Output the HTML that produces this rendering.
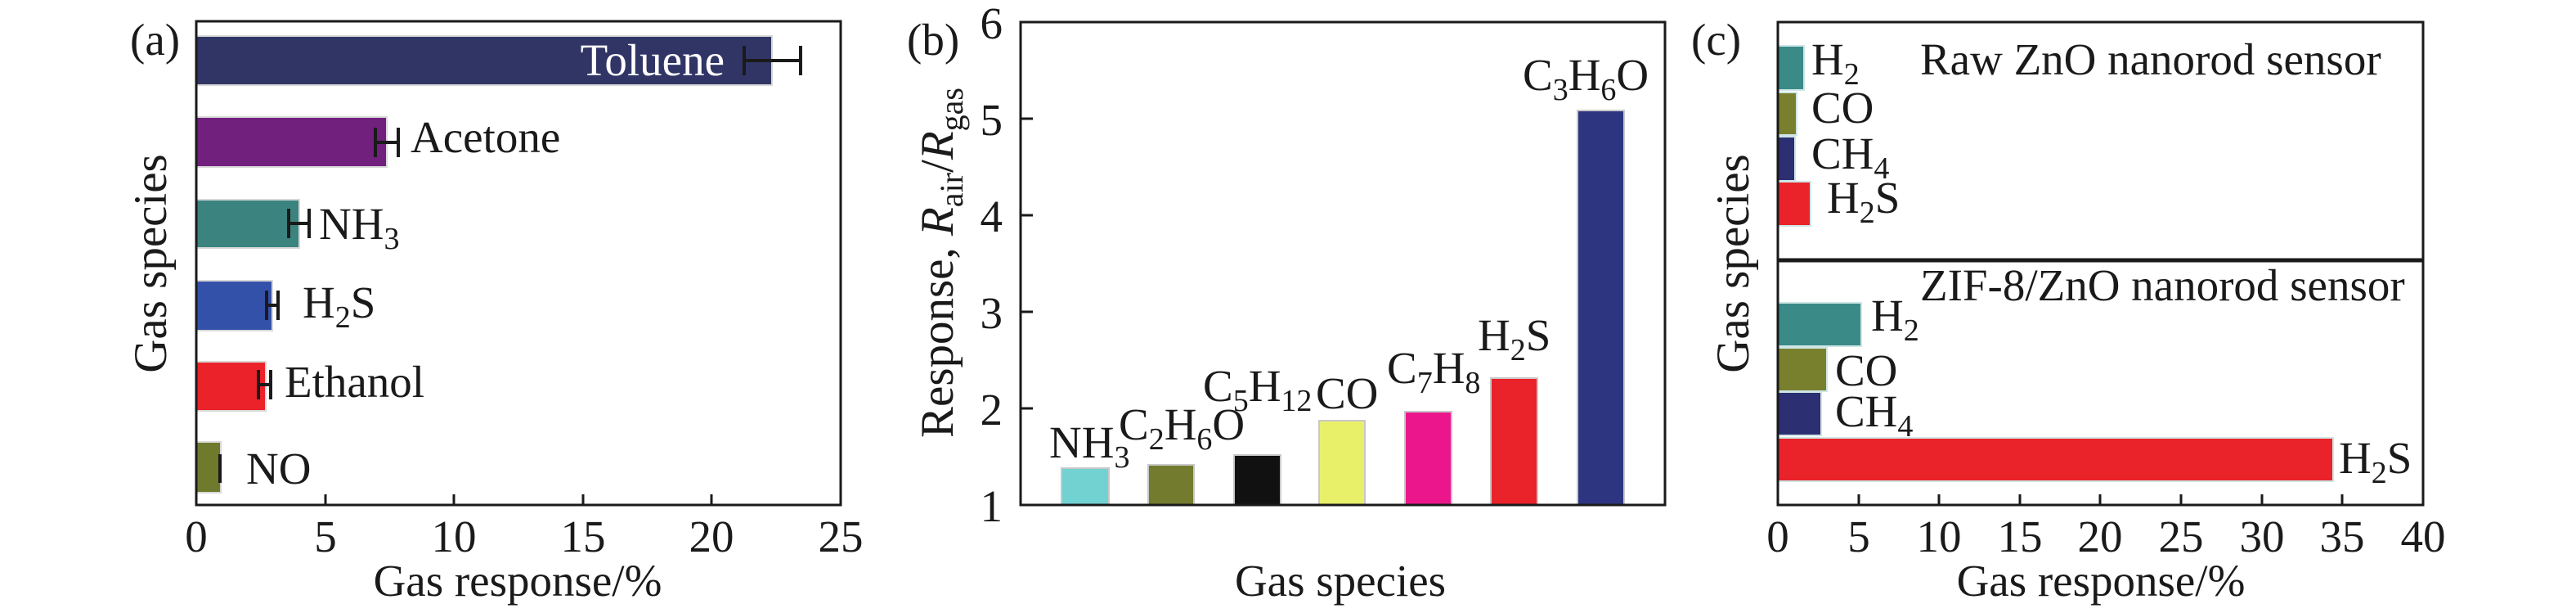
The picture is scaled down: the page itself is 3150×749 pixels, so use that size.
<!DOCTYPE html>
<html><head><meta charset="utf-8"><style>
html,body{margin:0;padding:0;background:#fff;}
svg{display:block;}
text{font-family:"Liberation Serif","DejaVu Serif",serif;fill:#1a1a1a;}
</style></head><body>
<svg width="3150" height="749" viewBox="0 0 3150 749" xmlns="http://www.w3.org/2000/svg">
<g font-size="55">
<!-- Panel a -->
<g stroke="#d8d8d8" stroke-width="2">
<rect x="240" y="44" width="704" height="60" fill="#313566"/>
<rect x="240" y="143" width="233" height="61" fill="#71207e"/>
<rect x="240" y="244" width="126" height="59" fill="#3a837f"/>
<rect x="240" y="343" width="93" height="61" fill="#3451aa"/>
<rect x="240" y="442" width="85" height="60" fill="#eb2229"/>
<rect x="240" y="540" width="30" height="62" fill="#6f7a2c"/>
</g>
<g stroke="#1a1a1a" stroke-width="4" fill="none">
<path d="M910 74H979M910 56V92M979 56V92"/>
<path d="M459 174H487M459 156V192M487 156V192"/>
<path d="M353 273H378M353 255V291M378 255V291"/>
<path d="M326 373H340M326 355V391M340 355V391"/>
<path d="M316 470H331M316 452V488M331 452V488"/>
<path d="M269 555V590"/>
</g>
<rect x="240" y="26" width="788" height="591" fill="none" stroke="#1a1a1a" stroke-width="3"/>
<g stroke="#1a1a1a" stroke-width="3">
<path d="M398 617V604M555 617V604M713 617V604M870 617V604"/>
</g>
<text x="886" y="92" text-anchor="end" style="fill:#fff">Toluene</text>
<text x="502" y="186">Acetone</text>
<text x="390" y="292">NH<tspan font-size="38" dy="12">3</tspan></text>
<text x="370" y="388">H<tspan font-size="38" dy="12">2</tspan><tspan dy="-12">S</tspan></text>
<text x="348" y="485">Ethanol</text>
<text x="301" y="591">NO</text>
<text x="159" y="67">(a)</text>
<g text-anchor="middle">
<text x="240" y="674">0</text><text x="398" y="674">5</text><text x="555" y="674">10</text>
<text x="713" y="674">15</text><text x="870" y="674">20</text><text x="1028" y="674">25</text>
<text x="633" y="728">Gas response/%</text>
<text transform="translate(203,322) rotate(-90)" font-size="57">Gas species</text>
</g>

<!-- Panel b -->
<g stroke="#c8c8c8" stroke-width="2">
<rect x="1298" y="572" width="58" height="45" fill="#72d1d1"/>
<rect x="1404" y="568" width="56" height="49" fill="#737b2e"/>
<rect x="1509" y="556" width="57" height="61" fill="#111"/>
<rect x="1613" y="514" width="56" height="103" fill="#e8f06a"/>
<rect x="1718" y="503" width="57" height="114" fill="#ec168c"/>
<rect x="1823" y="462" width="57" height="155" fill="#ea2229"/>
<rect x="1929" y="135" width="57" height="482" fill="#2e3580"/>
</g>
<rect x="1248" y="27" width="788" height="590" fill="none" stroke="#1a1a1a" stroke-width="3"/>
<g stroke="#1a1a1a" stroke-width="3">
<path d="M1248 145H1263M1248 263H1263M1248 381H1263M1248 499H1263"/>
</g>
<g text-anchor="end">
<text x="1226" y="47">6</text><text x="1226" y="165">5</text><text x="1226" y="283">4</text>
<text x="1226" y="401">3</text><text x="1226" y="519">2</text><text x="1226" y="637">1</text>
</g>
<text x="1283" y="559">NH<tspan font-size="38" dy="12">3</tspan></text>
<text x="1368" y="537">C<tspan font-size="38" dy="12">2</tspan><tspan dy="-12">H</tspan><tspan font-size="38" dy="12">6</tspan><tspan dy="-12">O</tspan></text>
<text x="1471" y="490">C<tspan font-size="38" dy="12">5</tspan><tspan dy="-12">H</tspan><tspan font-size="38" dy="12">12</tspan></text>
<text x="1609" y="499">CO</text>
<text x="1696" y="468">C<tspan font-size="38" dy="12">7</tspan><tspan dy="-12">H</tspan><tspan font-size="38" dy="12">8</tspan></text>
<text x="1807" y="428">H<tspan font-size="38" dy="12">2</tspan><tspan dy="-12">S</tspan></text>
<text x="1862" y="110">C<tspan font-size="38" dy="12">3</tspan><tspan dy="-12">H</tspan><tspan font-size="38" dy="12">6</tspan><tspan dy="-12">O</tspan></text>
<text x="1109" y="67">(b)</text>
<text x="1639" y="728" text-anchor="middle">Gas species</text>
<text transform="translate(1165,321) rotate(-90)" text-anchor="middle" font-size="57">Response, <tspan font-style="italic">R</tspan><tspan font-size="40" dy="12">air</tspan><tspan dy="-12">/</tspan><tspan font-style="italic">R</tspan><tspan font-size="40" dy="12">gas</tspan></text>

<!-- Panel c -->
<g stroke="#cfe6e6" stroke-width="2">
<rect x="2174" y="56" width="32" height="54" fill="#3a8a87"/>
<rect x="2174" y="113" width="23" height="52" fill="#78802d"/>
<rect x="2174" y="167" width="21" height="54" fill="#2c2f72"/>
<rect x="2174" y="222" width="40" height="54" fill="#ea2229"/>
<rect x="2174" y="370" width="102" height="53" fill="#3a8a87"/>
<rect x="2174" y="425" width="60" height="53" fill="#78802d"/>
<rect x="2174" y="479" width="53" height="53" fill="#2c2f72"/>
<rect x="2174" y="535" width="679" height="53" fill="#ea2229"/>
</g>
<rect x="2174" y="27" width="789" height="590" fill="none" stroke="#1a1a1a" stroke-width="3"/>
<path d="M2174 318H2963" stroke="#1a1a1a" stroke-width="5"/>
<g stroke="#1a1a1a" stroke-width="3">
<path d="M2273 617V604M2371 617V604M2470 617V604M2568 617V604M2667 617V604M2766 617V604M2864 617V604"/>
</g>
<g text-anchor="middle">
<text x="2174" y="674">0</text><text x="2273" y="674">5</text><text x="2371" y="674">10</text>
<text x="2470" y="674">15</text><text x="2568" y="674">20</text><text x="2667" y="674">25</text>
<text x="2766" y="674">30</text><text x="2864" y="674">35</text><text x="2963" y="674">40</text>
<text x="2569" y="728">Gas response/%</text>
<text transform="translate(2138,322) rotate(-90)" font-size="57">Gas species</text>
</g>
<text x="2215" y="91">H<tspan font-size="38" dy="12">2</tspan></text>
<text x="2215" y="150">CO</text>
<text x="2215" y="206">CH<tspan font-size="38" dy="12">4</tspan></text>
<text x="2234" y="260">H<tspan font-size="38" dy="12">2</tspan><tspan dy="-12">S</tspan></text>
<text x="2348" y="91">Raw ZnO nanorod sensor</text>
<text x="2348" y="367">ZIF-8/ZnO nanorod sensor</text>
<text x="2288" y="404">H<tspan font-size="38" dy="12">2</tspan></text>
<text x="2244" y="471">CO</text>
<text x="2244" y="521">CH<tspan font-size="38" dy="12">4</tspan></text>
<text x="2860" y="578">H<tspan font-size="38" dy="12">2</tspan><tspan dy="-12">S</tspan></text>
<text x="2068" y="67">(c)</text>
</g>
</svg>
</body></html>
